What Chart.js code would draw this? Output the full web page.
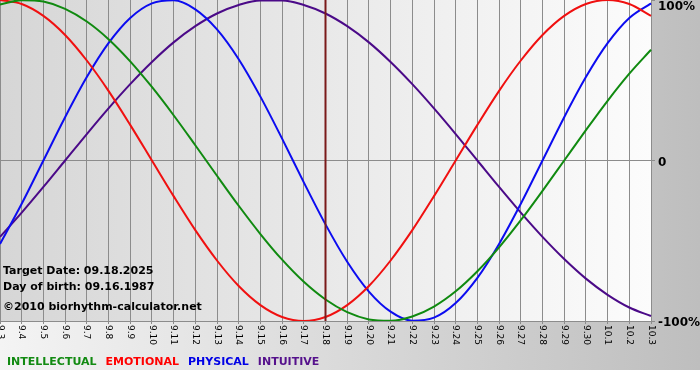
<!DOCTYPE html>
<html><head><meta charset="utf-8">
<script src="https://cdn.jsdelivr.net/npm/chart.js@4/dist/chart.umd.min.js"></script>
<style>html,body{margin:0;padding:0;background:#fff;}canvas{display:block;}</style>
</head><body>
<canvas id="c" width="700" height="380"></canvas>
<script>
const dayLabels = ['9.3','9.4','9.5','9.6','9.7','9.8','9.9','9.10','9.11','9.12','9.13','9.14','9.15','9.16','9.17','9.18','9.19','9.20','9.21','9.22','9.23','9.24','9.25','9.26','9.27','9.28','9.29','9.30','10.1','10.2','10.3'];
const intellectual = [0.972,0.999,0.990,0.945,0.866,0.756,0.618,0.458,0.282,0.095,-0.095,-0.282,-0.458,-0.618,-0.756,-0.866,-0.945,-0.990,-0.999,-0.972,-0.910,-0.815,-0.690,-0.541,-0.372,-0.189,0.000,0.189,0.372,0.541,0.690];
const emotional = [1.000,0.975,0.901,0.782,0.623,0.434,0.222,0.000,-0.222,-0.434,-0.623,-0.782,-0.901,-0.975,-1.000,-0.975,-0.901,-0.782,-0.623,-0.434,-0.222,0.000,0.222,0.434,0.623,0.782,0.901,0.975,1.000,0.975,0.901];
const physical = [-0.520,-0.270,0.000,0.270,0.520,0.731,0.888,0.979,0.998,0.942,0.817,0.631,0.398,0.136,-0.136,-0.398,-0.631,-0.817,-0.942,-0.998,-0.979,-0.888,-0.731,-0.520,-0.270,0.000,0.270,0.520,0.731,0.888,0.979];
const intuitive = [-0.476,-0.325,-0.165,0.000,0.165,0.325,0.476,0.614,0.736,0.837,0.916,0.969,0.997,0.997,0.969,0.916,0.837,0.736,0.614,0.476,0.325,0.165,0.000,-0.165,-0.325,-0.476,-0.614,-0.736,-0.837,-0.916,-0.969];
const seriesNames = ['INTELLECTUAL','EMOTIONAL','PHYSICAL','INTUITIVE'];
const yTickText = {'1':'100%','0':'0','-1':'-100%'};
const targetDay = '9.18';
const infoLines = ['Target Date: 09.18.2025','Day of birth: 09.16.1987','©2010 biorhythm-calculator.net'];

const lineColors = ['#108a10','#f01010','#0c0cf0','#4b0a88'];
const legendColors = ['#128a12','#ff0000','#0000e6','#55118c'];
const GRID = '#8c8c8c';

const decor = {
  id: 'decor',
  beforeDraw(chart) {
    const ctx = chart.ctx, a = chart.chartArea, W = chart.width, H = chart.height;
    ctx.save();
    let g = ctx.createLinearGradient(0, 0, W, 0);
    g.addColorStop(0, '#f4f4f4');
    g.addColorStop(1, '#bebebe');
    ctx.fillStyle = g;
    ctx.fillRect(0, 0, W, 370);
    ctx.fillStyle = '#ffffff';
    ctx.fillRect(0, 370, W, H - 370);
    g = ctx.createLinearGradient(a.left, 0, a.right, 0);
    g.addColorStop(0, '#d6d6d6');
    g.addColorStop(1, '#fcfcfc');
    ctx.fillStyle = g;
    ctx.fillRect(a.left, a.top, a.right - a.left, a.bottom - a.top);
    ctx.restore();
  },
  afterDatasetsDraw(chart) {
    const ctx = chart.ctx, a = chart.chartArea, xs = chart.scales.x;
    const x = xs.getPixelForValue(dayLabels.indexOf(targetDay));
    ctx.save();
    ctx.strokeStyle = '#7a1a1a';
    ctx.lineWidth = 2;
    ctx.beginPath();
    ctx.moveTo(x, a.top);
    ctx.lineTo(x, a.bottom);
    ctx.stroke();
    ctx.restore();
  },
  afterDraw(chart) {
    const ctx = chart.ctx, a = chart.chartArea, xs = chart.scales.x, ys = chart.scales.y;
    ctx.save();
    ctx.fillStyle = '#000';
    ctx.font = '9px "DejaVu Sans"';
    ctx.textAlign = 'left';
    ctx.textBaseline = 'middle';
    dayLabels.forEach((lab, i) => {
      const x = xs.getPixelForValue(i);
      ctx.save();
      ctx.translate(x, a.bottom + 4);
      ctx.rotate(Math.PI / 2);
      ctx.fillText(lab, 0, 0);
      ctx.restore();
    });
    ctx.font = 'bold 12px "DejaVu Sans"';
    Object.keys(yTickText).forEach(k => {
      const y = Math.max(ys.getPixelForValue(Number(k)) + 2, 7);
      ctx.fillText(yTickText[k], a.right + 7, y);
    });
    ctx.font = 'bold 11px "DejaVu Sans"';
    const infoY = [a.bottom - 50, a.bottom - 34, a.bottom - 14];
    infoLines.forEach((t, i) => ctx.fillText(t, 3, infoY[i]));
    let lx = 7;
    chart.data.datasets.forEach((ds, i) => {
      ctx.fillStyle = legendColors[i];
      ctx.fillText(ds.label, lx, 362);
      lx += ctx.measureText(ds.label).width + 9;
    });
    ctx.restore();
  }
};

const seriesData = [intellectual, emotional, physical, intuitive];
new Chart(document.getElementById('c'), {
  type: 'line',
  data: {
    labels: dayLabels,
    datasets: seriesData.map((d, i) => ({
      label: seriesNames[i],
      data: d,
      borderColor: lineColors[i],
      borderWidth: 2,
      pointRadius: 0,
      cubicInterpolationMode: 'monotone',
      fill: false
    }))
  },
  options: {
    responsive: false,
    animation: false,
    devicePixelRatio: 1,
    events: [],
    layout: { padding: { left: 0, right: 45, top: 0, bottom: 56 } },
    plugins: { legend: { display: false }, tooltip: { enabled: false } },
    scales: {
      x: {
        offset: false,
        grid: { color: GRID, lineWidth: 1, tickLength: 3, tickColor: GRID },
        border: { display: true, color: GRID },
        ticks: { display: false, autoSkip: false }
      },
      y: {
        position: 'right',
        min: -1, max: 1,
        grid: {
          color: c => (c.tick && c.tick.value === 0) ? GRID : 'rgba(0,0,0,0)',
          tickColor: GRID, tickLength: 4, lineWidth: 1
        },
        border: { display: false },
        ticks: { display: false, stepSize: 1 }
      }
    }
  },
  plugins: [decor]
});
</script>
</body></html>
